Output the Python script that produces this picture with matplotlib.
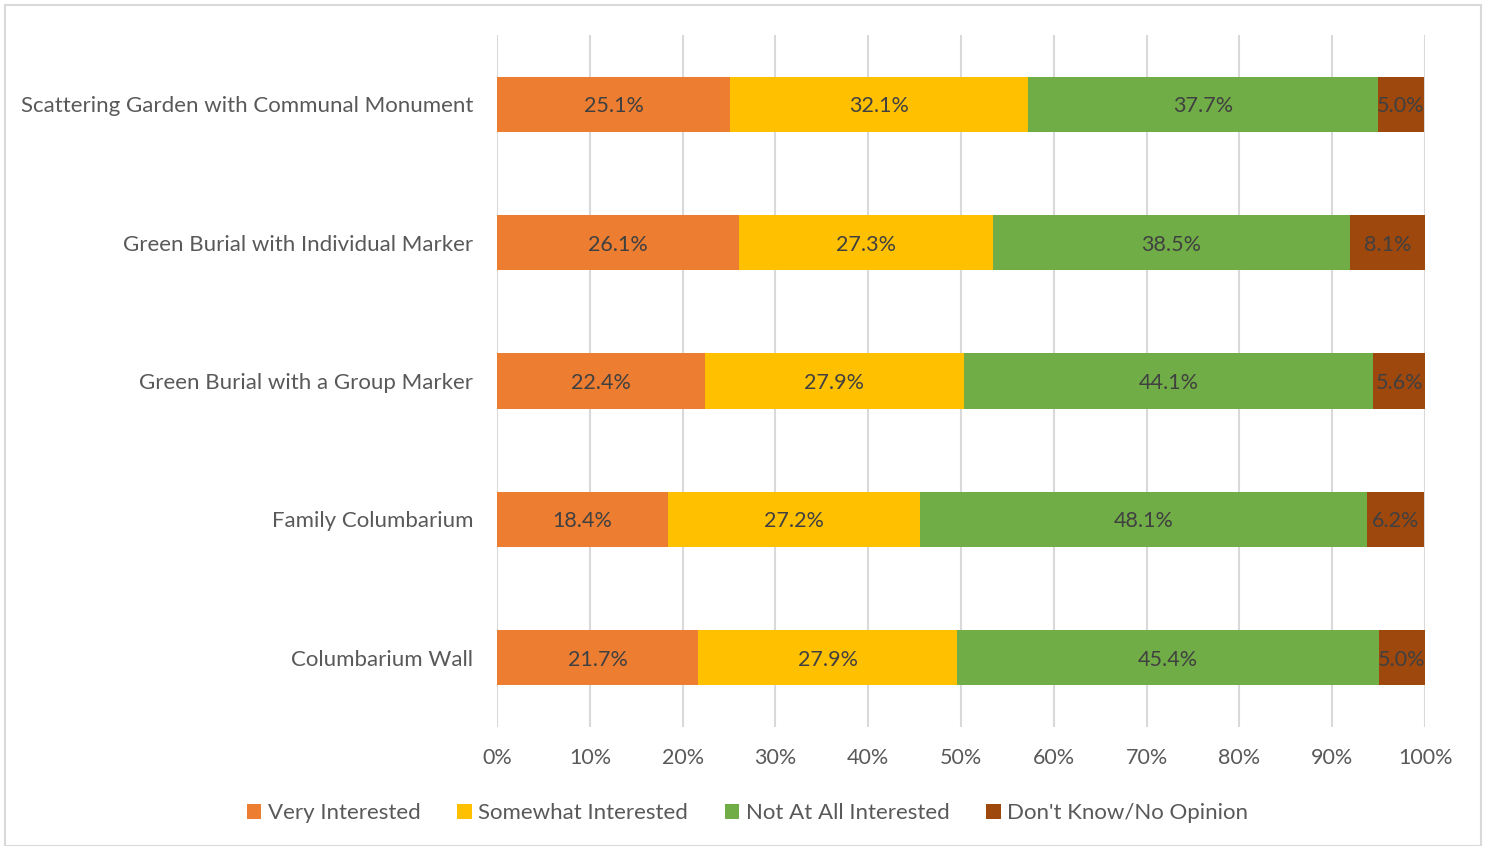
import matplotlib.pyplot as plt
from matplotlib.patches import Rectangle

plt.rcParams['font.family'] = ['Lato', 'DejaVu Sans']

categories = ['Scattering Garden with Communal Monument',
              'Green Burial with Individual Marker',
              'Green Burial with a Group Marker',
              'Family Columbarium',
              'Columbarium Wall']
series = ['Very Interested', 'Somewhat Interested',
          'Not At All Interested', "Don't Know/No Opinion"]
very = [25.1, 26.1, 22.4, 18.4, 21.7]
somewhat = [32.1, 27.3, 27.9, 27.2, 27.9]
not_at_all = [37.7, 38.5, 44.1, 48.1, 45.4]
dont_know = [5.0, 8.1, 5.6, 6.2, 5.0]
colors = ['#ED7D31', '#FFC000', '#70AD47', '#9E480E']

fig = plt.figure(figsize=(14.86, 8.46), dpi=100)
ax = fig.add_axes([0.3345, 0.1407, 0.6245, 0.8179])

ypos = list(range(len(categories)))[::-1]
left = [0.0] * len(categories)
for name, vals, c in zip(series, [very, somewhat, not_at_all, dont_know], colors):
    bars = ax.barh(ypos, vals, left=left, height=0.4, color=c, label=name, zorder=3)
    for b, v, l in zip(bars, vals, left):
        ax.text(l + v / 2, b.get_y() + b.get_height() / 2, f'{v:.1f}%',
                ha='center', va='center_baseline', fontsize=15.5, color='#404040', zorder=4)
    left = [a + v for a, v in zip(left, vals)]

ax.set_xlim(0, 100)
ax.set_ylim(-0.5, len(categories) - 0.5)
ax.set_xticks(range(0, 101, 10))
ax.set_xticklabels([f'{t}%' for t in range(0, 101, 10)], fontsize=15.5, color='#595959')
ax.set_yticks(ypos)
ax.set_yticklabels(categories, fontsize=16, color='#595959')
ax.tick_params(axis='both', length=0)
ax.tick_params(axis='x', pad=15)
ax.tick_params(axis='y', pad=17)
ax.grid(axis='x', color='#D9D9D9', linewidth=1.5, zorder=0)
for s in ax.spines.values():
    s.set_visible(False)

leg = fig.legend(loc='center', bbox_to_anchor=(0.503, 0.039), ncol=4, frameon=False,
                 fontsize=16, handlelength=0.65, handleheight=0.65, handletextpad=0.3,
                 columnspacing=1.65, labelcolor='#595959')

fig.patches.append(Rectangle((0.0037, 0.0), 0.9926, 0.9935, transform=fig.transFigure,
                             fill=False, edgecolor='#D9D9D9', linewidth=1.5))

fig.savefig('out.png', dpi=100)
